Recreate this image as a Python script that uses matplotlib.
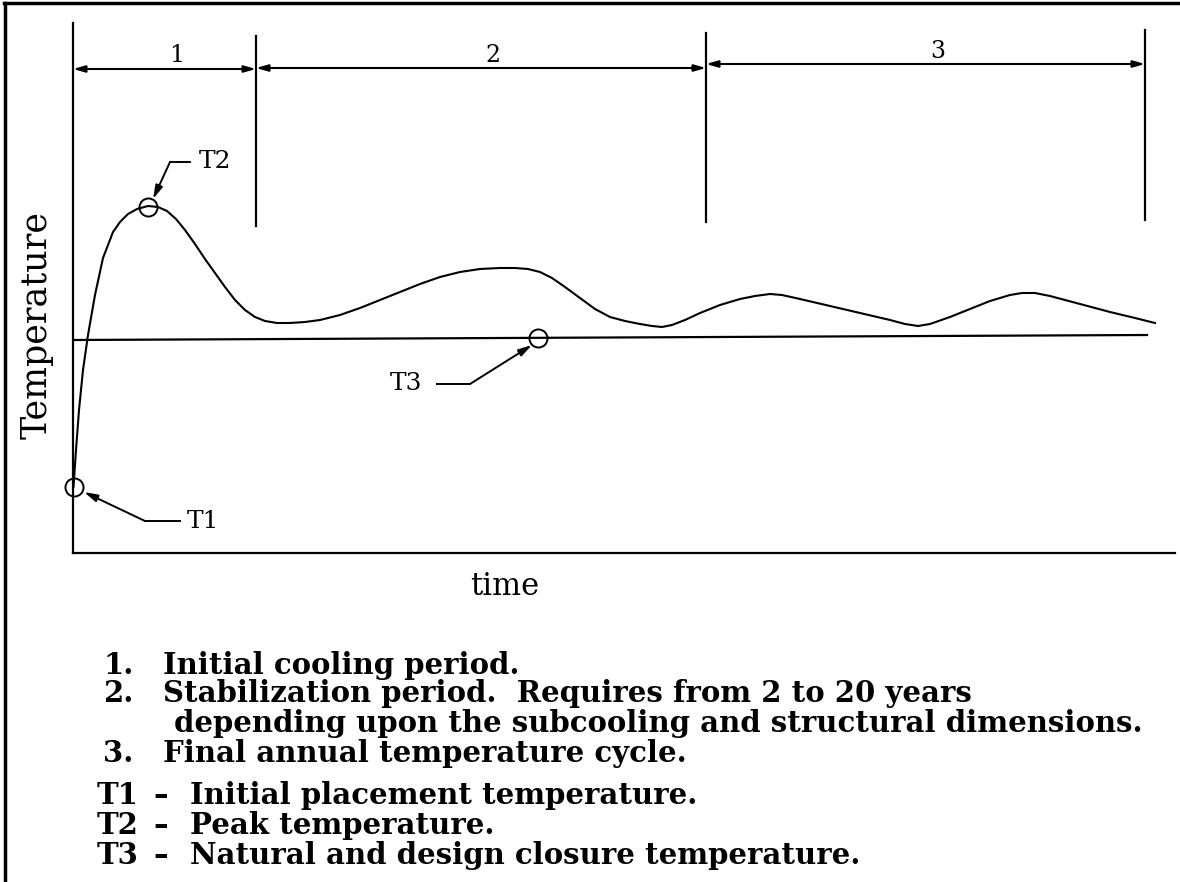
import matplotlib
matplotlib.use("Agg")
import matplotlib.pyplot as plt
from matplotlib.lines import Line2D

plt.rcParams["font.family"] = ["DejaVu Serif"]

# Temperature history of mass concrete, in arbitrary plot units
time = [0.5, 3, 6, 10, 15, 22, 30, 40, 47, 55, 64, 75, 85, 94, 103, 112, 122,
        132, 142, 152, 162, 172, 182, 192, 204, 217, 232, 247, 267, 287, 307,
        327, 347, 367, 387, 407, 427, 442, 455, 467, 479, 492, 507, 522, 537,
        552, 567, 579, 589, 599, 612, 627, 647, 667, 682, 697, 709, 727, 757,
        787, 817, 832, 845, 857, 877, 897, 917, 937, 949, 962, 977, 1007,
        1037, 1062, 1082]
temperature = [66, 103, 143, 183, 218, 258, 295, 321, 331, 339, 344, 347, 346,
               342, 334, 323, 309, 294, 280, 266, 253, 243, 236, 232, 230, 230,
               231, 233, 238, 245, 253, 261, 269, 276, 281, 284, 285, 285, 284,
               281, 275, 266, 255, 244, 236, 232, 229, 227, 226, 228, 233, 240,
               248, 254, 257, 259, 258, 254, 247, 240, 233, 229, 227, 229, 236,
               244, 252, 258, 260, 260, 257, 249, 241, 235, 230]

# Closure temperature line
closure_time = [0, 1074]
closure_temp = [213, 218]

# Marked temperatures
point_names = ["T1", "T2", "T3"]
point_time = [1, 75, 465]
point_temp = [66, 346, 215]

# Period boundaries, divider extents and dimension-line heights
period_bounds = [0, 183, 633, 1072]
period_labels = ["1", "2", "3"]
period_arrow_y = [484, 485, 489]
divider_top = [517, 520, 523]
divider_bottom = [327, 331, 333]

legend_numbers = ["1.", "2.", None, "3."]
legend_items = ["Initial cooling period.",
                "Stabilization period.  Requires from 2 to 20 years",
                "depending upon the subcooling and structural dimensions.",
                "Final annual temperature cycle."]
legend_keys = ["T1", "T2", "T3"]
legend_key_text = ["Initial placement temperature.",
                   "Peak temperature.",
                   "Natural and design closure temperature."]

W, H = 1180, 882
fig = plt.figure(figsize=(W / 100, H / 100), dpi=100)
fig.patch.set_facecolor("white")

# figure frame (top and left)
fig.add_artist(Line2D([4 / W, 1.0], [1 - 3 / H, 1 - 3 / H], color="black", lw=2.5))
fig.add_artist(Line2D([5 / W, 5 / W], [1 - 3 / H, 0.0], color="black", lw=2.5))

ax = fig.add_axes([73 / W, (H - 553) / H, (1175 - 73) / W, (553 - 23) / H])
ax.set_xlim(0, 1102)
ax.set_ylim(0, 530)
for s in ("top", "right"):
    ax.spines[s].set_visible(False)
for s in ("left", "bottom"):
    ax.spines[s].set_linewidth(1.6)
    ax.spines[s].set_color("black")
ax.set_xticks([])
ax.set_yticks([])

ax.plot(time, temperature, color="black", lw=1.5, solid_joinstyle="round")
ax.plot(closure_time, closure_temp, color="black", lw=1.6)
ax.plot(point_time, point_temp, "o", ms=13, mfc="none", mec="black", mew=1.4,
        clip_on=False)

# period dividers and dimension arrows
for xb, yt, yb in zip(period_bounds[1:], divider_top, divider_bottom):
    ax.plot([xb, xb], [yb, yt], color="black", lw=1.6)
for i, lab in enumerate(period_labels):
    x0, x1 = period_bounds[i], period_bounds[i + 1]
    y = period_arrow_y[i]
    ax.annotate("", xy=(x1, y), xytext=(x0, y),
                arrowprops=dict(arrowstyle="<|-|>,head_length=0.7,head_width=0.2",
                                color="black", lw=1.5, shrinkA=0, shrinkB=0))
    ax.text((x0 + x1) / 2 + 12, y + 1.5, lab, ha="center", va="bottom",
            fontsize=17)

# leaders to the marked points
arrow_kw = dict(arrowstyle="-|>,head_length=0.8,head_width=0.22", color="black",
                lw=1.4, shrinkA=0, shrinkB=0)
# T1
ax.plot([107, 72], [32, 32], color="black", lw=1.4)
ax.annotate("", xy=(11, 61), xytext=(72, 32), arrowprops=arrow_kw)
ax.text(114, 32, point_names[0], ha="left", va="center", fontsize=18)
# T2
ax.plot([97, 117], [391, 391], color="black", lw=1.4)
ax.annotate("", xy=(80, 354), xytext=(97, 391), arrowprops=arrow_kw)
ax.text(126, 391, point_names[1], ha="left", va="center", fontsize=18)
# T3
ax.plot([364, 397], [169, 169], color="black", lw=1.4)
ax.annotate("", xy=(459, 208), xytext=(397, 169), arrowprops=arrow_kw)
ax.text(349, 169, point_names[2], ha="right", va="center", fontsize=18)

ax.set_ylabel("Temperature", fontsize=25)
ax.yaxis.set_label_coords(-0.0327, 0.43)
ax.yaxis.label.set_va("center")
ax.set_xlabel("time", fontsize=22)
ax.xaxis.set_label_coords(0.392, -0.064)
ax.xaxis.label.set_va("center")

# explanatory notes
note_fs = 21
rows_y = [665, 694, 723, 754]
for num, txt, y in zip(legend_numbers, legend_items, rows_y):
    if num is not None:
        fig.text(103 / W, 1 - y / H, num, ha="left", va="center",
                 fontsize=note_fs, fontweight="bold")
        fig.text(163 / W, 1 - y / H, txt, ha="left", va="center",
                 fontsize=note_fs, fontweight="bold")
    else:
        fig.text(174 / W, 1 - y / H, txt, ha="left", va="center",
                 fontsize=note_fs, fontweight="bold")
key_y = [796, 826, 855]
for key, txt, y in zip(legend_keys, legend_key_text, key_y):
    fig.text(97 / W, 1 - y / H, key, ha="left", va="center",
             fontsize=note_fs, fontweight="bold")
    fig.text(153 / W, 1 - y / H, "\u2013", ha="left", va="center",
             fontsize=note_fs, fontweight="bold")
    fig.text(190 / W, 1 - y / H, txt, ha="left", va="center",
             fontsize=note_fs, fontweight="bold")

fig.savefig("out.png", dpi=100, facecolor="white")
